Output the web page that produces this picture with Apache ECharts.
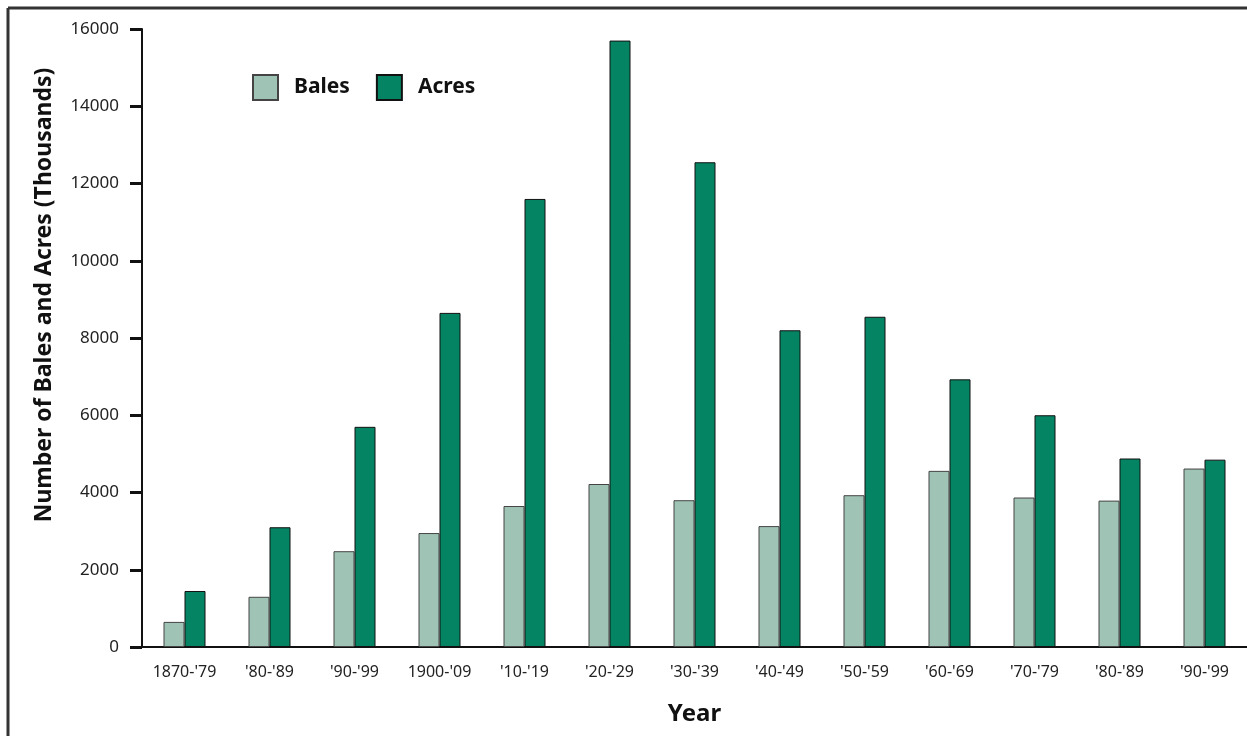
<!DOCTYPE html>
<html>
<head>
<meta charset="utf-8">
<script src="https://cdn.jsdelivr.net/npm/echarts@6/dist/echarts.min.js"></script>
<style>
html,body{margin:0;padding:0;background:#fff;}
#c{width:1247px;height:736px;}
</style>
</head>
<body>
<div id="c"></div>
<script>
const categories = ["1870-'79","'80-'89","'90-'99","1900-'09","'10-'19","'20-'29","'30-'39","'40-'49","'50-'59","'60-'69","'70-'79","'80-'89","'90-'99"];
const bales = [650, 1300, 2480, 2950, 3650, 4220, 3800, 3130, 3930, 4560, 3870, 3790, 4620];
const acres = [1450, 3100, 5700, 8650, 11600, 15700, 12550, 8200, 8550, 6930, 6000, 4880, 4850];
const yTicks = [0, 2000, 4000, 6000, 8000, 10000, 12000, 14000, 16000];

const FONT = 'Noto Sans';
const chart = echarts.init(document.getElementById('c'));
chart.setOption({
  animation: false,
  backgroundColor: '#fff',
  textStyle: { fontFamily: FONT },
  graphic: [
    { type: 'line', shape: { x1: 8, y1: 8, x2: 1247, y2: 8 }, style: { stroke: '#333', lineWidth: 3 } },
    { type: 'line', shape: { x1: 8, y1: 8, x2: 8, y2: 736 }, style: { stroke: '#333', lineWidth: 3 } }
  ],
  legend: {
    left: 247, top: 69,
    itemWidth: 25, itemHeight: 25, itemGap: 26,
    icon: 'rect',
    textStyle: { fontFamily: FONT, fontWeight: 'bold', fontSize: 21, color: '#111', padding: [0, 0, 0, 11] },
    data: ['Bales', 'Acres']
  },
  grid: { left: 142, right: 0, top: 29, bottom: 89, containLabel: false },
  xAxis: {
    type: 'category',
    data: categories,
    name: 'Year',
    nameLocation: 'middle',
    nameGap: 55,
    nameTextStyle: { fontFamily: FONT, fontWeight: 'bold', fontSize: 24, color: '#111' },
    axisLine: { lineStyle: { color: '#111', width: 2 } },
    axisTick: { alignWithLabel: true, length: 6, lineStyle: { color: '#111', width: 3 } },
    axisLabel: { fontFamily: FONT, fontSize: 16, color: '#222', margin: 17, interval: 0 }
  },
  yAxis: {
    type: 'value',
    min: 0, max: 16000, interval: 2000,
    name: 'Number of Bales and Acres (Thousands)',
    nameLocation: 'middle',
    nameGap: 86,
    nameRotate: 90,
    nameTextStyle: { fontFamily: FONT, fontWeight: 'bold', fontSize: 23, color: '#111', padding: [0, 0, 0, 86] },
    axisLine: { show: true, lineStyle: { color: '#111', width: 2 } },
    axisTick: { show: true, length: 12, lineStyle: { color: '#111', width: 3 } },
    axisLabel: { fontFamily: FONT, fontSize: 17, color: '#222', margin: 23, formatter: v => String(v) },
    splitLine: { show: false }
  },
  series: [
    {
      name: 'Bales', type: 'bar', data: bales,
      barWidth: 21, barGap: '0%',
      itemStyle: { color: '#9fc4b5', borderColor: '#444', borderWidth: 1 }
    },
    {
      name: 'Acres', type: 'bar', data: acres,
      barWidth: 21, barGap: '0%',
      itemStyle: { color: '#058463', borderColor: '#111', borderWidth: 1 }
    }
  ]
});
</script>
</body>
</html>
